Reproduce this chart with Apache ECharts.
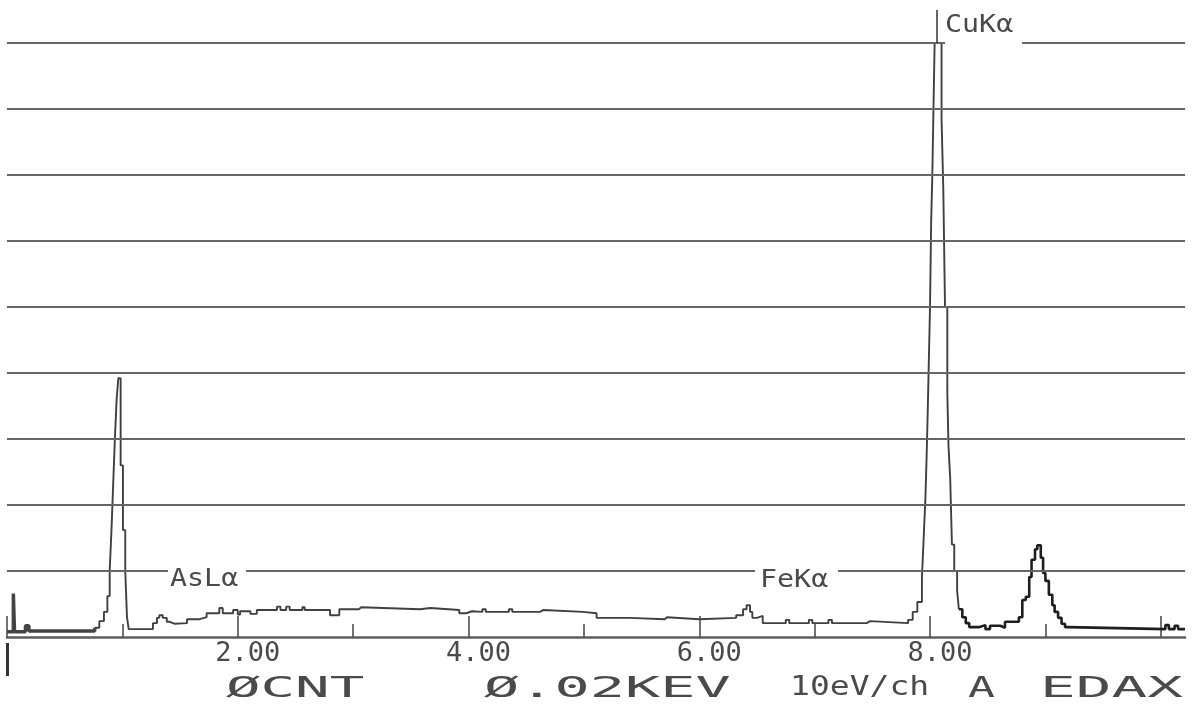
<!DOCTYPE html>
<html><head><meta charset="utf-8">
<script src="https://cdn.jsdelivr.net/npm/echarts@6/dist/echarts.min.js"></script>
<style>html,body{margin:0;padding:0;background:#fff}#c{width:1192px;height:707px}</style>
</head><body><div id="c"></div>
<script>
// Spectrum: step start energy (keV) and level (grid units)
const energyKeV = [
  0.00, 0.055, 0.065, 0.16, 0.19,
  0.76, 0.80, 0.84, 0.87, 0.89, 0.905, 0.92, 0.935, 0.95, 0.965, 0.985, 1.005, 1.025, 1.04, 1.055,
  1.265, 1.30, 1.32, 1.35, 1.385, 1.41, 1.455, 1.56, 1.67, 1.73, 1.84, 1.87, 1.96, 2.00, 2.02,
  2.11, 2.165, 2.34, 2.37, 2.42, 2.45, 2.56, 2.58, 2.80, 2.88, 3.05, 3.07, 3.58, 3.67, 3.92, 3.98,
  4.03, 4.12, 4.15, 4.35, 4.38, 4.62, 4.65, 4.99, 5.11, 5.40, 5.70, 5.72, 6.00,
  6.32, 6.38, 6.41, 6.44, 6.46, 6.50, 6.55, 6.75, 6.78, 6.95, 6.98, 7.12, 7.15, 7.45, 7.48,
  7.81, 7.85, 7.89, 7.93, 7.945, 7.96, 7.97, 7.98, 7.99, 8.00, 8.01, 8.02, 8.03, 8.04,
  8.10, 8.115, 8.13, 8.15, 8.16, 8.175, 8.19, 8.21, 8.235, 8.25,
  8.28, 8.31, 8.34, 8.43, 8.48, 8.52, 8.61, 8.65, 8.77, 8.80, 8.83, 8.86, 8.88, 8.91, 8.93,
  8.96, 8.98, 9.00, 9.03, 9.06, 9.08, 9.11, 9.14, 9.17, 9.20,
  10.04, 10.07, 10.12, 10.15, 10.21
];
const counts = [
  0.08, 0.66, 0.08, 0.17, 0.09,
  0.14, 0.24, 0.38, 0.62, 1.0, 1.6, 2.3, 3.0, 3.6, 3.92, 2.6, 1.62, 1.0, 0.30, 0.12,
  0.21, 0.29, 0.33, 0.29, 0.23, 0.20, 0.21, 0.27, 0.30, 0.36, 0.44, 0.36, 0.41, 0.34, 0.39,
  0.35, 0.41, 0.46, 0.41, 0.46, 0.41, 0.45, 0.41, 0.33, 0.42, 0.45, 0.42, 0.44, 0.41, 0.36, 0.39,
  0.38, 0.42, 0.38, 0.42, 0.38, 0.41, 0.38, 0.36, 0.29, 0.27, 0.30, 0.27, 0.29,
  0.33, 0.42, 0.48, 0.38, 0.29, 0.32, 0.21, 0.26, 0.21, 0.26, 0.21, 0.26, 0.21, 0.24, 0.21,
  0.26, 0.38, 0.53, 0.9, 1.5, 2.1, 2.7, 3.4, 4.2, 5.0, 6.3, 7.0, 8.0, 9.0,
  7.85, 6.8, 5.0, 3.7, 2.9, 2.4, 1.4, 1.0, 0.7, 0.42,
  0.30, 0.21, 0.15, 0.18, 0.12, 0.17, 0.14, 0.23, 0.30, 0.56, 0.61, 0.91, 1.17, 1.33, 1.39,
  1.2, 0.97, 0.85, 0.64, 0.48, 0.38, 0.29, 0.20, 0.15, 0.12,
  0.18, 0.12, 0.17, 0.12, 0.12
];
const gridLevels = [1, 2, 3, 4, 5, 6, 7, 8, 9];
const majorTicks = [0, 2, 4, 6, 8, 10];
const minorTicks = [1, 3, 5, 7, 9];
const labelValues = [2, 4, 6, 8];
const tickLabels = ['2.00', '4.00', '6.00', '8.00'];
const peakLabels = ['AsLα', 'FeKα', 'CuKα'];
const footerTexts = ['ØCNT', 'Ø.02KEV', '10eV/ch', 'A', 'EDAX'];
const markerEnergy = 8.06;

const pts = energyKeV.map((e, i) => [e, counts[i]]);
const seg = (lo, hi) => pts.filter(p => p[0] >= lo && p[0] <= hi);

const MONO = "'DejaVu Sans Mono', 'Liberation Mono', monospace";
const TXT = '#4a4a4a';

const chart = echarts.init(document.getElementById('c'), null, {renderer: 'canvas'});

function txt(text, x, y, size, sx) {
  return {type: 'text', x: x, y: y, scaleX: sx, z: 101,
    style: {text: text, font: size + 'px ' + MONO, fill: TXT, textAlign: 'left', textVerticalAlign: 'middle'}};
}
function cover(x, y, w, h) {
  return {type: 'rect', shape: {x: x, y: y, width: w, height: h}, z: 100, style: {fill: '#fff'}};
}

chart.setOption({
  animation: false,
  backgroundColor: '#fff',
  grid: {left: 7, right: 7, top: 10, bottom: 70},
  xAxis: [{
    type: 'value', min: 0, max: 10.21,
    axisLine: {show: true, lineStyle: {color: '#5e5e5e', width: 2.5}},
    axisTick: {show: true, inside: true, length: 21, customValues: majorTicks, lineStyle: {color: '#444', width: 1.5}},
    axisLabel: {show: true, customValues: labelValues, margin: 3, padding: [0, 0, 0, 20],
      formatter: v => tickLabels[labelValues.indexOf(v)] || '',
      fontFamily: MONO, fontSize: 27, color: TXT},
    splitLine: {show: false}
  }, {
    type: 'value', min: 0, max: 10.21, position: 'bottom',
    axisLine: {show: false},
    axisTick: {show: true, inside: true, length: 13, customValues: minorTicks, lineStyle: {color: '#444', width: 1.5}},
    axisLabel: {show: false},
    splitLine: {show: false}
  }],
  yAxis: {type: 'value', min: 0, max: 9.5, show: false},
  series: [{
    type: 'line', data: seg(0, 0.76), step: 'end', showSymbol: false,
    lineStyle: {color: '#444', width: 3.5}
  }, {
    type: 'line', data: seg(0.76, 8.25), step: 'end', showSymbol: false,
    lineStyle: {color: '#404040', width: 1.9},
    markLine: {
      silent: true, symbol: ['none', 'none'], label: {show: false},
      lineStyle: {type: 'solid', color: '#666', width: 2},
      data: gridLevels.map(v => ({yAxis: v})).concat([[
        {coord: [markerEnergy, 9], lineStyle: {color: '#333', width: 1.5}},
        {coord: [markerEnergy, 9.5]}
      ]])
    }
  }, {
    type: 'line', data: seg(8.25, 10.21), step: 'end', showSymbol: false,
    lineStyle: {color: '#1e1e1e', width: 2.6}
  }],
  graphic: [
    cover(168, 560, 78, 34),
    cover(755, 560, 83, 35),
    cover(945, 10, 77, 38),
    {type: 'rect', shape: {x: 6, y: 643, width: 3, height: 33}, z: 100, style: {fill: '#333'}},
    txt(peakLabels[0], 170, 580, 24, 1.18),
    txt(peakLabels[1], 760, 581, 24, 1.18),
    txt(peakLabels[2], 945, 26, 24, 1.18),
    txt(footerTexts[0], 226, 690, 28, 2.05),
    txt(footerTexts[1], 484, 690, 28, 2.09),
    txt(footerTexts[2], 790, 688, 26, 1.27),
    txt(footerTexts[3], 968, 690, 28, 1.6),
    txt(footerTexts[4], 1040, 690, 28, 2.12)
  ]
});
</script></body></html>
